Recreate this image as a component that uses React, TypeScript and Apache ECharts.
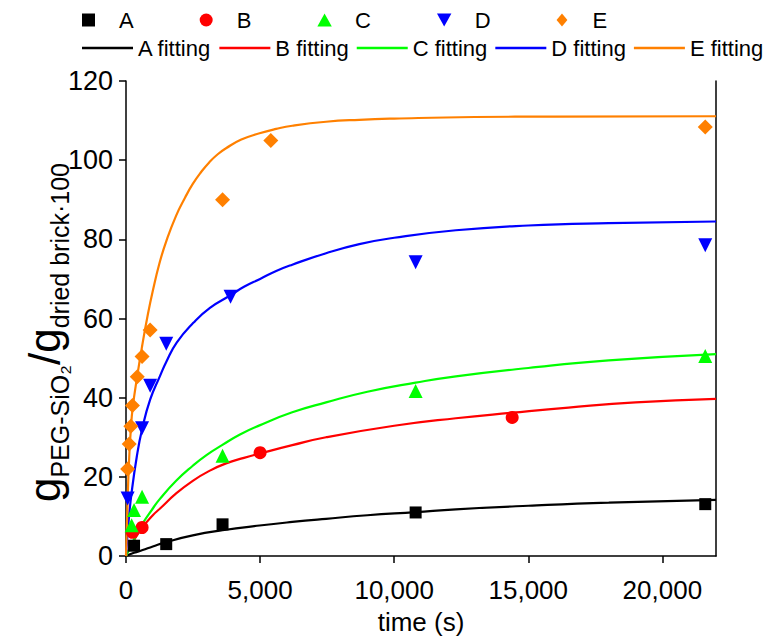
import React, { useEffect, useRef } from "react";
import * as echarts from "echarts";

// measured points [time (s), value]
const dataA = [[300, 2.6], [1500, 3.0], [3600, 8.0], [10800, 11.0], [21600, 13.1]];
const dataB = [[240, 6.0], [600, 7.2], [5000, 26.1], [14400, 35.0]];
const dataC = [[210, 7.8], [300, 11.6], [600, 15.0], [3600, 25.3], [10800, 41.7], [21600, 50.5]];
const dataD = [[60, 14.5], [600, 32.3], [900, 43.0], [1500, 53.6], [3900, 65.5], [10800, 74.2], [21600, 78.5]];
const dataE = [[60, 22.0], [120, 28.3], [180, 32.8], [240, 38.0], [420, 45.3], [600, 50.4], [900, 57.1], [3600, 90.0], [5400, 105.0], [21600, 108.4]];

// fitting curves [time (s), value]
const fitA = [[0, 0], [300, 0.8], [620, 1.5], [1000, 2.4], [1500, 3.5], [2490, 5.2], [3600, 6.5], [4980, 7.7], [6200, 8.6], [7460, 9.4], [9000, 10.3], [10800, 11.1], [12300, 11.8], [15000, 12.7], [18000, 13.5], [22000, 14.2]];
const fitB = [[0, 0], [150, 2.2], [300, 4.0], [620, 7.3], [1000, 10.3], [1270, 12.0], [1870, 15.8], [2490, 19.0], [3110, 21.5], [3730, 23.4], [4400, 24.8], [5000, 25.9], [6200, 28.0], [7460, 30.0], [10000, 32.9], [12300, 34.8], [14400, 36.2], [16500, 37.5], [19000, 38.8], [22000, 39.7]];
const fitC = [[0, 0], [300, 4.2], [620, 8.2], [1000, 12.0], [1250, 14.3], [1870, 19.0], [2490, 22.8], [3000, 25.5], [3580, 28.0], [4250, 30.7], [4980, 33.0], [6200, 36.3], [7460, 38.8], [9000, 41.5], [10800, 43.8], [12300, 45.4], [15000, 47.5], [18000, 49.4], [22000, 51.0]];
const fitD = [[0, 0], [100, 9], [200, 15.5], [400, 25], [600, 32], [900, 39.5], [1270, 45.5], [1500, 49], [1890, 53.9], [2510, 58.9], [3130, 62.7], [3880, 65.8], [4400, 68.0], [5000, 70], [5600, 72.0], [6200, 73.6], [7460, 76.5], [8700, 78.8], [10000, 80.4], [12300, 82.3], [15000, 83.5], [18000, 84.1], [22000, 84.5]];
const fitE = [[0, 0], [60, 14], [120, 25], [180, 32], [250, 37.5], [420, 45.5], [600, 53], [800, 60.5], [1000, 67], [1250, 74], [1500, 79.5], [1870, 86], [2200, 90.5], [2490, 94], [2800, 97], [3110, 99.5], [3420, 101.5], [3730, 103], [4300, 105.2], [4980, 106.8], [5600, 107.9], [6200, 108.7], [7460, 109.7], [8700, 110.2], [10000, 110.5], [13000, 110.9], [16000, 111], [22000, 111.1]];

const pointNames = ["A", "B", "C", "D", "E"];
const fitNames = ["A fitting", "B fitting", "C fitting", "D fitting", "E fitting"];
const colors = ["#000000", "#ff0000", "#00ff00", "#0000ff", "#ff8000"];
const symbols = ["rect", "circle", "triangle", "triangle", "diamond"];
const symbolSizes = [12, 13, 14, 14, 15];
const symbolRotates = [0, 0, 0, 180, 0];
const legendIcons = [
  "path://M0 0H10V10H0Z",
  "path://M5 0A5 5 0 1 1 5 10A5 5 0 1 1 5 0Z",
  "path://M5 0L10 9H0Z",
  "path://M0 0H10L5 9Z",
  "path://M5 0L10 6L5 12L0 6Z",
];

const xMax = 22000;
const xInterval = 5000;
const yMax = 120;
const yInterval = 20;

const FONT = "'Liberation Sans', Arial, sans-serif";

export default function App() {
  const ref = useRef<HTMLDivElement>(null);
  useEffect(() => {
    if (!ref.current) return;
    const chart = echarts.init(ref.current, undefined, { renderer: "svg" });
    const points = [dataA, dataB, dataC, dataD, dataE];
    const fits = [fitA, fitB, fitC, fitD, fitE];
    const lineSeries = fits.map((d, i) => ({
      name: fitNames[i],
      type: "line",
      data: d,
      smooth: 0.5,
      symbol: "none",
      showSymbol: false,
      lineStyle: { color: colors[i], width: 2.2 },
      itemStyle: { color: colors[i] },
      z: 2,
    }));
    const scatterSeries = points.map((d, i) => ({
      name: pointNames[i],
      type: "scatter",
      data: d,
      symbol: symbols[i],
      symbolSize: symbolSizes[i],
      symbolRotate: symbolRotates[i],
      itemStyle: { color: colors[i], opacity: 1 },
      z: 3,
    }));
    chart.setOption({
      animation: false,
      backgroundColor: "#ffffff",
      textStyle: { fontFamily: FONT },
      legend: [
        {
          data: pointNames.map((n, i) => ({ name: n, icon: legendIcons[i], itemStyle: { color: colors[i] } })),
          left: 82,
          top: 9,
          width: 690,
          padding: 0,
          itemWidth: 51,
          itemHeight: 13,
          itemGap: 66,
          symbolKeepAspect: true,
          symbolRotate: 0,
          textStyle: { fontSize: 22, color: "#000", fontFamily: FONT },
        },
        {
          data: fitNames,
          left: 82,
          top: 37,
          width: 690,
          padding: 0,
          itemWidth: 51,
          itemHeight: 14,
          itemGap: 8,
          icon: "path://M0 0H100V5H0Z",
          symbolKeepAspect: true,
          textStyle: { fontSize: 22, color: "#000", fontFamily: FONT },
        },
      ],
      grid: { left: 126, right: 47, top: 81, bottom: 83, containLabel: false, outerBoundsMode: "none" },
      xAxis: {
        type: "value",
        min: 0,
        max: xMax,
        interval: xInterval,
        name: "time (s)",
        nameLocation: "middle",
        nameGap: 53,
        nameMoveOverlap: false,
        nameTextStyle: { fontSize: 26, color: "#000", fontFamily: FONT },
        axisLine: { show: true, onZero: false, lineStyle: { color: "#000", width: 1.5 } },
        axisTick: { show: true, length: 7, lineStyle: { color: "#000", width: 1.5 } },
        axisLabel: {
          fontSize: 26,
          color: "#000",
          margin: 21,
          fontFamily: FONT,
          formatter: (v: number) => (v === 0 ? "0" : v.toLocaleString("en-US")),
        },
        splitLine: { show: false },
      },
      yAxis: [
        {
          type: "value",
          min: 0,
          max: yMax,
          interval: yInterval,
          name: "{g|g}{s|PEG-SiO₂}{g|/g}{s|dried brick·100}",
          nameLocation: "middle",
          nameRotate: 90,
          nameGap: 60,
          nameMoveOverlap: false,
          nameTextStyle: {
            color: "#000",
            fontFamily: FONT,
            padding: [0, 28, 0, 0],
            rich: {
              g: { fontSize: 44, fontFamily: FONT, color: "#000", lineHeight: 50, verticalAlign: "bottom" },
              s: { fontSize: 25, fontFamily: FONT, color: "#000", lineHeight: 50, verticalAlign: "bottom", padding: [0, 0, -6, 0] },
            },
          },
          axisLine: { show: true, onZero: false, lineStyle: { color: "#000", width: 1.5 } },
          axisTick: { show: true, length: 7, lineStyle: { color: "#000", width: 1.5 } },
          axisLabel: { fontSize: 27, color: "#000", margin: 13, fontFamily: FONT },
          splitLine: { show: false },
        },
        {
          type: "value",
          min: 0,
          max: yMax,
          interval: yInterval,
          position: "right",
          axisLine: { show: true, onZero: false, lineStyle: { color: "#000", width: 1.5 } },
          axisTick: { show: false },
          axisLabel: { show: false },
          splitLine: { show: false },
        },
      ],
      series: [...lineSeries, ...scatterSeries],
    });
    return () => chart.dispose();
  }, []);
  return (
    <div
      ref={ref}
      style={{ position: "fixed", left: 0, top: 0, width: 763, height: 639, background: "#fff" }}
    />
  );
}
